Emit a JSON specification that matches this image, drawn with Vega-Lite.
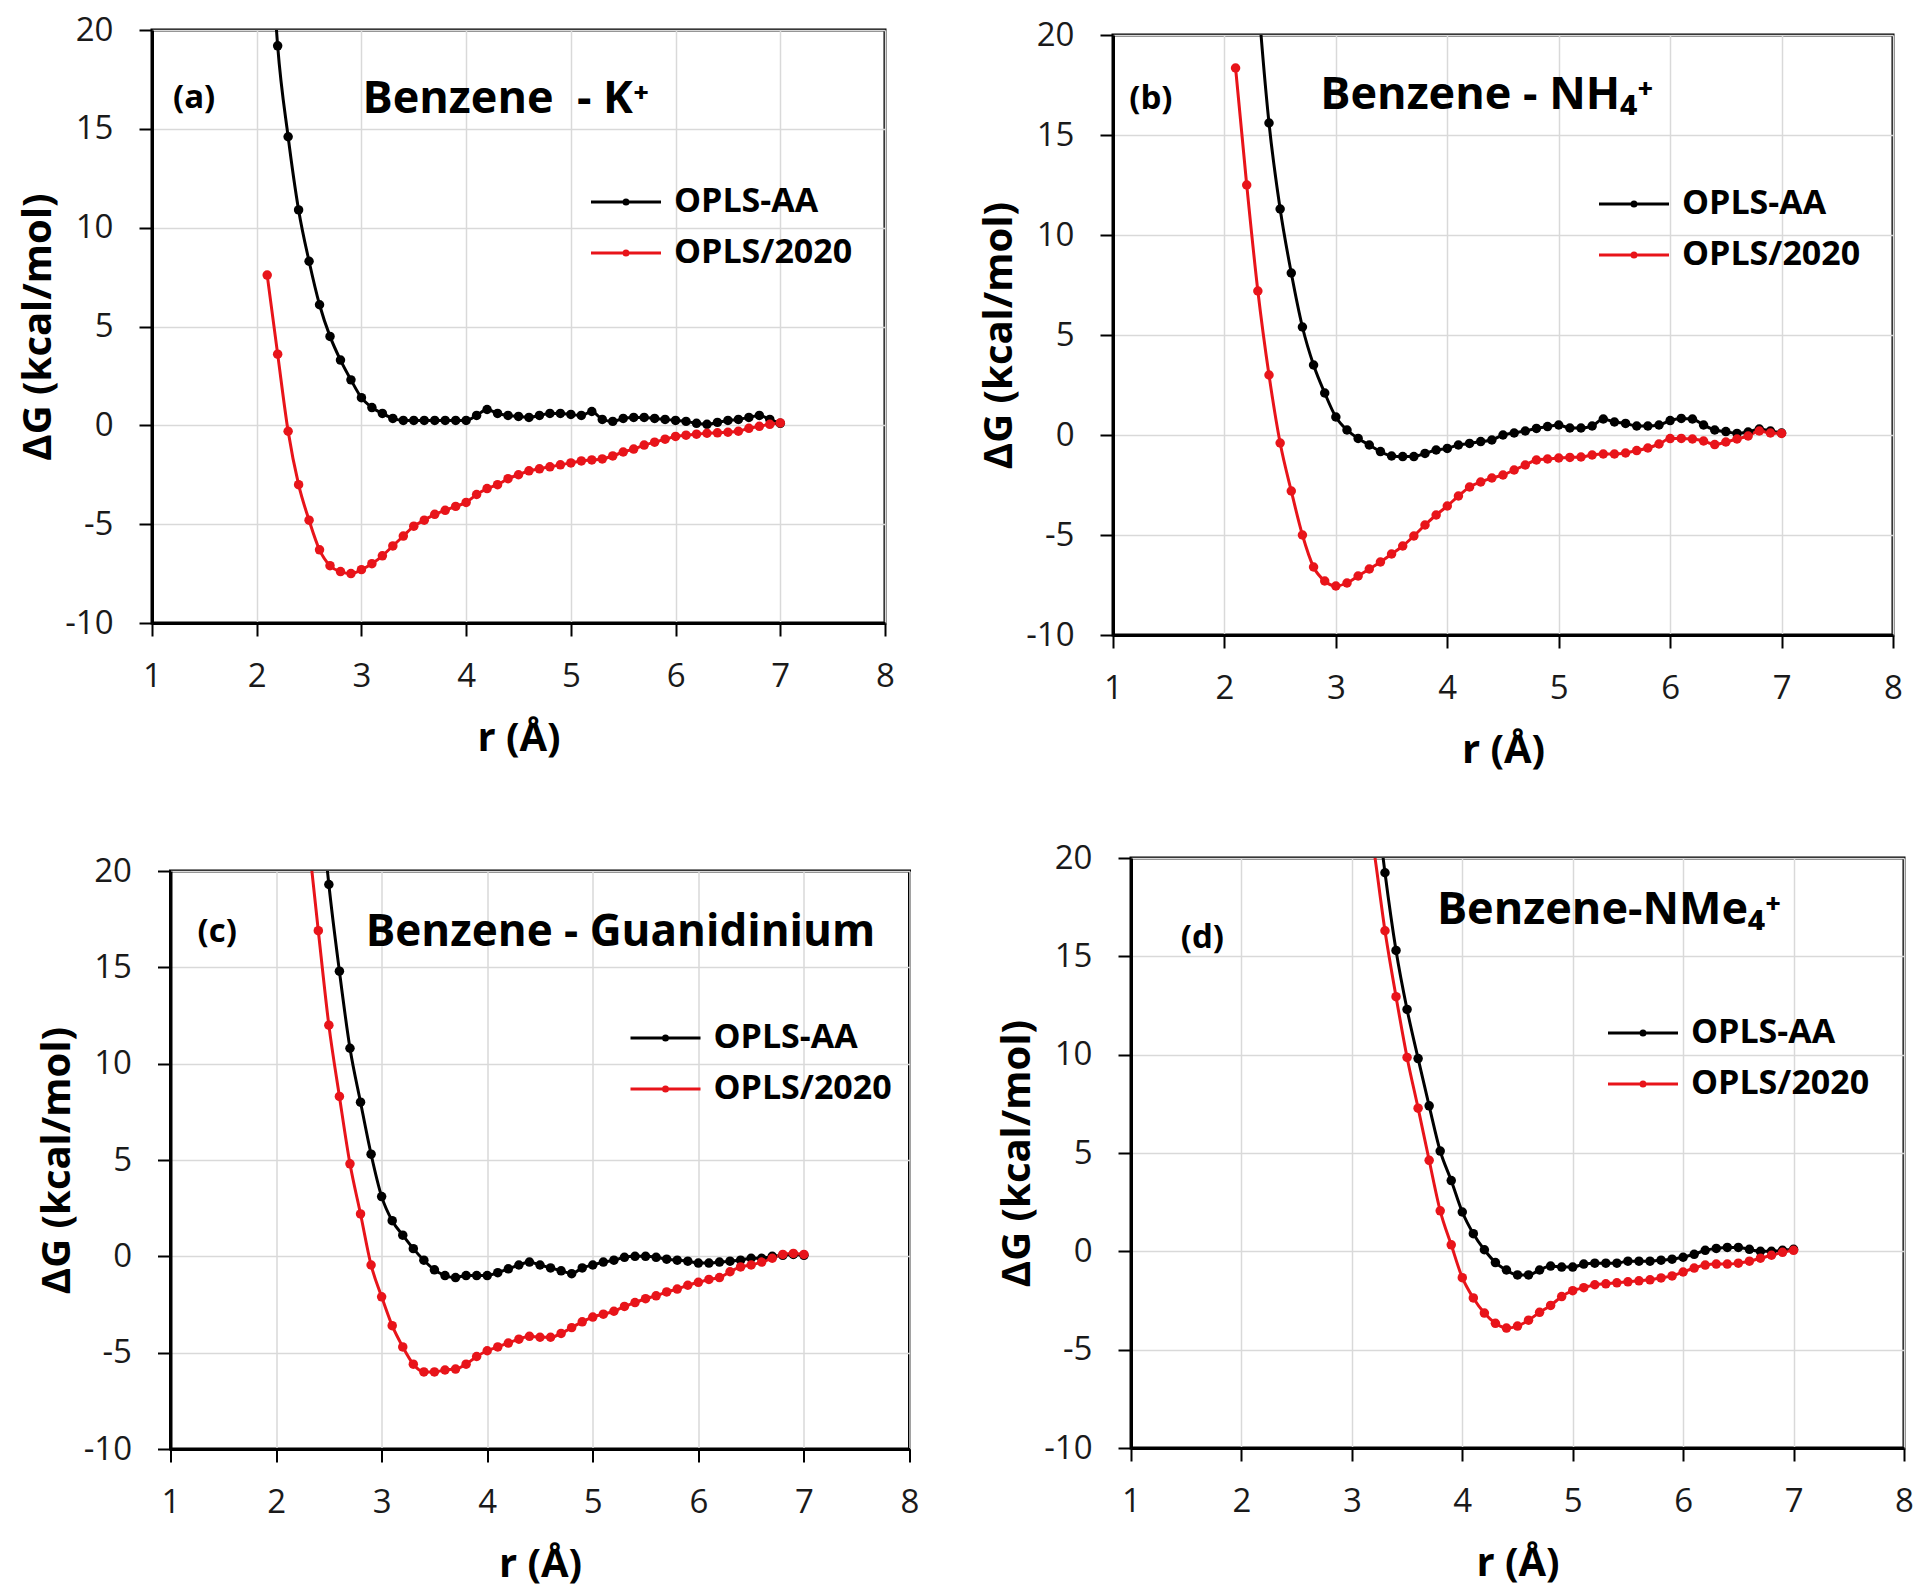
{
"$schema": "https://vega.github.io/schema/vega-lite/v6.json",
"background": "white",
"padding": {"left": 16, "top": 11, "right": 5, "bottom": 5},
"config": {
  "font": "Open Sans",
  "view": {"stroke": "black", "strokeWidth": 3},
  "axis": {"grid": true, "gridColor": "#d9d9d9", "gridWidth": 1.5, "domainColor": "black", "domainWidth": 3, "tickColor": "black", "tickWidth": 2, "tickSize": 13, "labelFont": "Open Sans", "labelFontSize": 33, "labelColor": "#1a1a1a", "labelFlush": false, "labelOverlap": false, "titleFont": "Open Sans", "titleFontSize": 40, "titleFontWeight": "bold", "titleColor": "black"},
  "axisX": {"labelPadding": 24, "titlePadding": 25},
  "axisY": {"labelPadding": 26, "titlePadding": 6},
  "legend": {"title": null, "orient": "none", "symbolType": "M-6,0L1,0M-2.7,0A0.2,0.2,0,1,0,-2.3,0A0.2,0.2,0,1,0,-2.7,0", "symbolSize": 400, "symbolStrokeWidth": 3, "labelFont": "Open Sans", "labelFontSize": 34, "labelFontWeight": "bold", "labelColor": "black", "labelLimit": 500, "rowPadding": 17, "labelOffset": 6}
},
"datasets": {
"a": [
{"s":"OPLS-AA","r":2.1,"G":28},{"s":"OPLS-AA","r":2.2,"G":19.2},{"s":"OPLS-AA","r":2.3,"G":14.6},{"s":"OPLS-AA","r":2.4,"G":10.9},{"s":"OPLS-AA","r":2.5,"G":8.3},{"s":"OPLS-AA","r":2.6,"G":6.1},{"s":"OPLS-AA","r":2.7,"G":4.5},{"s":"OPLS-AA","r":2.8,"G":3.3},{"s":"OPLS-AA","r":2.9,"G":2.3},{"s":"OPLS-AA","r":3.0,"G":1.4},
{"s":"OPLS-AA","r":3.1,"G":0.9},{"s":"OPLS-AA","r":3.2,"G":0.6},{"s":"OPLS-AA","r":3.3,"G":0.35},{"s":"OPLS-AA","r":3.4,"G":0.25},{"s":"OPLS-AA","r":3.5,"G":0.25},{"s":"OPLS-AA","r":3.6,"G":0.25},{"s":"OPLS-AA","r":3.7,"G":0.25},{"s":"OPLS-AA","r":3.8,"G":0.25},{"s":"OPLS-AA","r":3.9,"G":0.25},{"s":"OPLS-AA","r":4.0,"G":0.25},
{"s":"OPLS-AA","r":4.1,"G":0.5},{"s":"OPLS-AA","r":4.2,"G":0.8},{"s":"OPLS-AA","r":4.3,"G":0.6},{"s":"OPLS-AA","r":4.4,"G":0.5},{"s":"OPLS-AA","r":4.5,"G":0.45},{"s":"OPLS-AA","r":4.6,"G":0.4},{"s":"OPLS-AA","r":4.7,"G":0.5},{"s":"OPLS-AA","r":4.8,"G":0.6},{"s":"OPLS-AA","r":4.9,"G":0.6},{"s":"OPLS-AA","r":5.0,"G":0.55},
{"s":"OPLS-AA","r":5.1,"G":0.5},{"s":"OPLS-AA","r":5.2,"G":0.7},{"s":"OPLS-AA","r":5.3,"G":0.3},{"s":"OPLS-AA","r":5.4,"G":0.2},{"s":"OPLS-AA","r":5.5,"G":0.35},{"s":"OPLS-AA","r":5.6,"G":0.4},{"s":"OPLS-AA","r":5.7,"G":0.4},{"s":"OPLS-AA","r":5.8,"G":0.35},{"s":"OPLS-AA","r":5.9,"G":0.3},{"s":"OPLS-AA","r":6.0,"G":0.25},
{"s":"OPLS-AA","r":6.1,"G":0.2},{"s":"OPLS-AA","r":6.2,"G":0.1},{"s":"OPLS-AA","r":6.3,"G":0.05},{"s":"OPLS-AA","r":6.4,"G":0.15},{"s":"OPLS-AA","r":6.5,"G":0.25},{"s":"OPLS-AA","r":6.6,"G":0.3},{"s":"OPLS-AA","r":6.7,"G":0.4},{"s":"OPLS-AA","r":6.8,"G":0.5},{"s":"OPLS-AA","r":6.9,"G":0.3},{"s":"OPLS-AA","r":7.0,"G":0.1},
{"s":"OPLS/2020","r":2.1,"G":7.6},{"s":"OPLS/2020","r":2.2,"G":3.6},{"s":"OPLS/2020","r":2.3,"G":-0.3},{"s":"OPLS/2020","r":2.4,"G":-3.0},{"s":"OPLS/2020","r":2.5,"G":-4.8},{"s":"OPLS/2020","r":2.6,"G":-6.3},{"s":"OPLS/2020","r":2.7,"G":-7.1},{"s":"OPLS/2020","r":2.8,"G":-7.4},{"s":"OPLS/2020","r":2.9,"G":-7.5},{"s":"OPLS/2020","r":3.0,"G":-7.3},
{"s":"OPLS/2020","r":3.1,"G":-7.0},{"s":"OPLS/2020","r":3.2,"G":-6.6},{"s":"OPLS/2020","r":3.3,"G":-6.1},{"s":"OPLS/2020","r":3.4,"G":-5.6},{"s":"OPLS/2020","r":3.5,"G":-5.1},{"s":"OPLS/2020","r":3.6,"G":-4.8},{"s":"OPLS/2020","r":3.7,"G":-4.5},{"s":"OPLS/2020","r":3.8,"G":-4.3},{"s":"OPLS/2020","r":3.9,"G":-4.1},{"s":"OPLS/2020","r":4.0,"G":-3.9},
{"s":"OPLS/2020","r":4.1,"G":-3.5},{"s":"OPLS/2020","r":4.2,"G":-3.2},{"s":"OPLS/2020","r":4.3,"G":-3.0},{"s":"OPLS/2020","r":4.4,"G":-2.7},{"s":"OPLS/2020","r":4.5,"G":-2.5},{"s":"OPLS/2020","r":4.6,"G":-2.3},{"s":"OPLS/2020","r":4.7,"G":-2.2},{"s":"OPLS/2020","r":4.8,"G":-2.1},{"s":"OPLS/2020","r":4.9,"G":-2.0},{"s":"OPLS/2020","r":5.0,"G":-1.9},
{"s":"OPLS/2020","r":5.1,"G":-1.8},{"s":"OPLS/2020","r":5.2,"G":-1.75},{"s":"OPLS/2020","r":5.3,"G":-1.7},{"s":"OPLS/2020","r":5.4,"G":-1.55},{"s":"OPLS/2020","r":5.5,"G":-1.35},{"s":"OPLS/2020","r":5.6,"G":-1.2},{"s":"OPLS/2020","r":5.7,"G":-1.0},{"s":"OPLS/2020","r":5.8,"G":-0.85},{"s":"OPLS/2020","r":5.9,"G":-0.7},{"s":"OPLS/2020","r":6.0,"G":-0.56},
{"s":"OPLS/2020","r":6.1,"G":-0.5},{"s":"OPLS/2020","r":6.2,"G":-0.45},{"s":"OPLS/2020","r":6.3,"G":-0.4},{"s":"OPLS/2020","r":6.4,"G":-0.38},{"s":"OPLS/2020","r":6.5,"G":-0.35},{"s":"OPLS/2020","r":6.6,"G":-0.3},{"s":"OPLS/2020","r":6.7,"G":-0.15},{"s":"OPLS/2020","r":6.8,"G":-0.05},{"s":"OPLS/2020","r":6.9,"G":0.05},{"s":"OPLS/2020","r":7.0,"G":0.12}
],
"b": [
{"s":"OPLS-AA","r":2.2,"G":30},{"s":"OPLS-AA","r":2.3,"G":22},{"s":"OPLS-AA","r":2.4,"G":15.6},{"s":"OPLS-AA","r":2.5,"G":11.3},{"s":"OPLS-AA","r":2.6,"G":8.1},{"s":"OPLS-AA","r":2.7,"G":5.4},{"s":"OPLS-AA","r":2.8,"G":3.5},{"s":"OPLS-AA","r":2.9,"G":2.1},{"s":"OPLS-AA","r":3.0,"G":0.9},
{"s":"OPLS-AA","r":3.1,"G":0.25},{"s":"OPLS-AA","r":3.2,"G":-0.17},{"s":"OPLS-AA","r":3.3,"G":-0.5},{"s":"OPLS-AA","r":3.4,"G":-0.83},{"s":"OPLS-AA","r":3.5,"G":-1.05},{"s":"OPLS-AA","r":3.6,"G":-1.08},{"s":"OPLS-AA","r":3.7,"G":-1.08},{"s":"OPLS-AA","r":3.8,"G":-0.92},{"s":"OPLS-AA","r":3.9,"G":-0.75},{"s":"OPLS-AA","r":4.0,"G":-0.67},
{"s":"OPLS-AA","r":4.1,"G":-0.5},{"s":"OPLS-AA","r":4.2,"G":-0.42},{"s":"OPLS-AA","r":4.3,"G":-0.33},{"s":"OPLS-AA","r":4.4,"G":-0.25},{"s":"OPLS-AA","r":4.5,"G":0.0},{"s":"OPLS-AA","r":4.6,"G":0.1},{"s":"OPLS-AA","r":4.7,"G":0.2},{"s":"OPLS-AA","r":4.8,"G":0.33},{"s":"OPLS-AA","r":4.9,"G":0.42},{"s":"OPLS-AA","r":5.0,"G":0.5},
{"s":"OPLS-AA","r":5.1,"G":0.35},{"s":"OPLS-AA","r":5.2,"G":0.35},{"s":"OPLS-AA","r":5.3,"G":0.45},{"s":"OPLS-AA","r":5.4,"G":0.8},{"s":"OPLS-AA","r":5.5,"G":0.65},{"s":"OPLS-AA","r":5.6,"G":0.58},{"s":"OPLS-AA","r":5.7,"G":0.45},{"s":"OPLS-AA","r":5.8,"G":0.45},{"s":"OPLS-AA","r":5.9,"G":0.5},{"s":"OPLS-AA","r":6.0,"G":0.72},
{"s":"OPLS-AA","r":6.1,"G":0.83},{"s":"OPLS-AA","r":6.2,"G":0.8},{"s":"OPLS-AA","r":6.3,"G":0.5},{"s":"OPLS-AA","r":6.4,"G":0.25},{"s":"OPLS-AA","r":6.5,"G":0.17},{"s":"OPLS-AA","r":6.6,"G":0.08},{"s":"OPLS-AA","r":6.7,"G":0.15},{"s":"OPLS-AA","r":6.8,"G":0.3},{"s":"OPLS-AA","r":6.9,"G":0.2},{"s":"OPLS-AA","r":7.0,"G":0.1},
{"s":"OPLS/2020","r":2.1,"G":18.35},{"s":"OPLS/2020","r":2.2,"G":12.5},{"s":"OPLS/2020","r":2.3,"G":7.2},{"s":"OPLS/2020","r":2.4,"G":3.0},{"s":"OPLS/2020","r":2.5,"G":-0.4},{"s":"OPLS/2020","r":2.6,"G":-2.8},{"s":"OPLS/2020","r":2.7,"G":-5.0},{"s":"OPLS/2020","r":2.8,"G":-6.6},{"s":"OPLS/2020","r":2.9,"G":-7.3},{"s":"OPLS/2020","r":3.0,"G":-7.55},
{"s":"OPLS/2020","r":3.1,"G":-7.4},{"s":"OPLS/2020","r":3.2,"G":-7.05},{"s":"OPLS/2020","r":3.3,"G":-6.7},{"s":"OPLS/2020","r":3.4,"G":-6.35},{"s":"OPLS/2020","r":3.5,"G":-5.95},{"s":"OPLS/2020","r":3.6,"G":-5.55},{"s":"OPLS/2020","r":3.7,"G":-5.05},{"s":"OPLS/2020","r":3.8,"G":-4.5},{"s":"OPLS/2020","r":3.9,"G":-4.0},{"s":"OPLS/2020","r":4.0,"G":-3.55},
{"s":"OPLS/2020","r":4.1,"G":-3.05},{"s":"OPLS/2020","r":4.2,"G":-2.6},{"s":"OPLS/2020","r":4.3,"G":-2.35},{"s":"OPLS/2020","r":4.4,"G":-2.15},{"s":"OPLS/2020","r":4.5,"G":-2.0},{"s":"OPLS/2020","r":4.6,"G":-1.75},{"s":"OPLS/2020","r":4.7,"G":-1.5},{"s":"OPLS/2020","r":4.8,"G":-1.25},{"s":"OPLS/2020","r":4.9,"G":-1.2},{"s":"OPLS/2020","r":5.0,"G":-1.15},
{"s":"OPLS/2020","r":5.1,"G":-1.12},{"s":"OPLS/2020","r":5.2,"G":-1.1},{"s":"OPLS/2020","r":5.3,"G":-1.0},{"s":"OPLS/2020","r":5.4,"G":-0.95},{"s":"OPLS/2020","r":5.5,"G":-0.95},{"s":"OPLS/2020","r":5.6,"G":-0.9},{"s":"OPLS/2020","r":5.7,"G":-0.78},{"s":"OPLS/2020","r":5.8,"G":-0.65},{"s":"OPLS/2020","r":5.9,"G":-0.45},{"s":"OPLS/2020","r":6.0,"G":-0.18},
{"s":"OPLS/2020","r":6.1,"G":-0.17},{"s":"OPLS/2020","r":6.2,"G":-0.2},{"s":"OPLS/2020","r":6.3,"G":-0.3},{"s":"OPLS/2020","r":6.4,"G":-0.48},{"s":"OPLS/2020","r":6.5,"G":-0.35},{"s":"OPLS/2020","r":6.6,"G":-0.2},{"s":"OPLS/2020","r":6.7,"G":-0.05},{"s":"OPLS/2020","r":6.8,"G":0.2},{"s":"OPLS/2020","r":6.9,"G":0.1},{"s":"OPLS/2020","r":7.0,"G":0.08}
],
"c": [
{"s":"OPLS-AA","r":2.4,"G":25},{"s":"OPLS-AA","r":2.5,"G":19.3},{"s":"OPLS-AA","r":2.6,"G":14.8},{"s":"OPLS-AA","r":2.7,"G":10.8},{"s":"OPLS-AA","r":2.8,"G":8.0},{"s":"OPLS-AA","r":2.9,"G":5.3},{"s":"OPLS-AA","r":3.0,"G":3.1},
{"s":"OPLS-AA","r":3.1,"G":1.85},{"s":"OPLS-AA","r":3.2,"G":1.1},{"s":"OPLS-AA","r":3.3,"G":0.4},{"s":"OPLS-AA","r":3.4,"G":-0.2},{"s":"OPLS-AA","r":3.5,"G":-0.7},{"s":"OPLS-AA","r":3.6,"G":-1.0},{"s":"OPLS-AA","r":3.7,"G":-1.1},{"s":"OPLS-AA","r":3.8,"G":-1.0},{"s":"OPLS-AA","r":3.9,"G":-1.0},{"s":"OPLS-AA","r":4.0,"G":-1.0},
{"s":"OPLS-AA","r":4.1,"G":-0.85},{"s":"OPLS-AA","r":4.2,"G":-0.65},{"s":"OPLS-AA","r":4.3,"G":-0.45},{"s":"OPLS-AA","r":4.4,"G":-0.3},{"s":"OPLS-AA","r":4.5,"G":-0.45},{"s":"OPLS-AA","r":4.6,"G":-0.6},{"s":"OPLS-AA","r":4.7,"G":-0.75},{"s":"OPLS-AA","r":4.8,"G":-0.9},{"s":"OPLS-AA","r":4.9,"G":-0.6},{"s":"OPLS-AA","r":5.0,"G":-0.45},
{"s":"OPLS-AA","r":5.1,"G":-0.3},{"s":"OPLS-AA","r":5.2,"G":-0.2},{"s":"OPLS-AA","r":5.3,"G":-0.05},{"s":"OPLS-AA","r":5.4,"G":0.0},{"s":"OPLS-AA","r":5.5,"G":0.0},{"s":"OPLS-AA","r":5.6,"G":-0.05},{"s":"OPLS-AA","r":5.7,"G":-0.15},{"s":"OPLS-AA","r":5.8,"G":-0.2},{"s":"OPLS-AA","r":5.9,"G":-0.25},{"s":"OPLS-AA","r":6.0,"G":-0.35},
{"s":"OPLS-AA","r":6.1,"G":-0.35},{"s":"OPLS-AA","r":6.2,"G":-0.3},{"s":"OPLS-AA","r":6.3,"G":-0.25},{"s":"OPLS-AA","r":6.4,"G":-0.2},{"s":"OPLS-AA","r":6.5,"G":-0.1},{"s":"OPLS-AA","r":6.6,"G":-0.1},{"s":"OPLS-AA","r":6.7,"G":0.0},{"s":"OPLS-AA","r":6.8,"G":0.05},{"s":"OPLS-AA","r":6.9,"G":0.1},{"s":"OPLS-AA","r":7.0,"G":0.05},
{"s":"OPLS/2020","r":2.3,"G":22},{"s":"OPLS/2020","r":2.4,"G":16.9},{"s":"OPLS/2020","r":2.5,"G":12.0},{"s":"OPLS/2020","r":2.6,"G":8.3},{"s":"OPLS/2020","r":2.7,"G":4.8},{"s":"OPLS/2020","r":2.8,"G":2.2},{"s":"OPLS/2020","r":2.9,"G":-0.45},{"s":"OPLS/2020","r":3.0,"G":-2.1},
{"s":"OPLS/2020","r":3.1,"G":-3.6},{"s":"OPLS/2020","r":3.2,"G":-4.7},{"s":"OPLS/2020","r":3.3,"G":-5.6},{"s":"OPLS/2020","r":3.4,"G":-6.0},{"s":"OPLS/2020","r":3.5,"G":-6.0},{"s":"OPLS/2020","r":3.6,"G":-5.9},{"s":"OPLS/2020","r":3.7,"G":-5.85},{"s":"OPLS/2020","r":3.8,"G":-5.6},{"s":"OPLS/2020","r":3.9,"G":-5.2},{"s":"OPLS/2020","r":4.0,"G":-4.9},
{"s":"OPLS/2020","r":4.1,"G":-4.7},{"s":"OPLS/2020","r":4.2,"G":-4.5},{"s":"OPLS/2020","r":4.3,"G":-4.3},{"s":"OPLS/2020","r":4.4,"G":-4.15},{"s":"OPLS/2020","r":4.5,"G":-4.2},{"s":"OPLS/2020","r":4.6,"G":-4.2},{"s":"OPLS/2020","r":4.7,"G":-4.0},{"s":"OPLS/2020","r":4.8,"G":-3.7},{"s":"OPLS/2020","r":4.9,"G":-3.4},{"s":"OPLS/2020","r":5.0,"G":-3.15},
{"s":"OPLS/2020","r":5.1,"G":-3.0},{"s":"OPLS/2020","r":5.2,"G":-2.85},{"s":"OPLS/2020","r":5.3,"G":-2.6},{"s":"OPLS/2020","r":5.4,"G":-2.4},{"s":"OPLS/2020","r":5.5,"G":-2.2},{"s":"OPLS/2020","r":5.6,"G":-2.05},{"s":"OPLS/2020","r":5.7,"G":-1.85},{"s":"OPLS/2020","r":5.8,"G":-1.7},{"s":"OPLS/2020","r":5.9,"G":-1.5},{"s":"OPLS/2020","r":6.0,"G":-1.35},
{"s":"OPLS/2020","r":6.1,"G":-1.2},{"s":"OPLS/2020","r":6.2,"G":-1.1},{"s":"OPLS/2020","r":6.3,"G":-0.8},{"s":"OPLS/2020","r":6.4,"G":-0.55},{"s":"OPLS/2020","r":6.5,"G":-0.45},{"s":"OPLS/2020","r":6.6,"G":-0.3},{"s":"OPLS/2020","r":6.7,"G":-0.1},{"s":"OPLS/2020","r":6.8,"G":0.1},{"s":"OPLS/2020","r":6.9,"G":0.15},{"s":"OPLS/2020","r":7.0,"G":0.1}
],
"d": [
{"s":"OPLS-AA","r":3.2,"G":24},{"s":"OPLS-AA","r":3.3,"G":19.25},{"s":"OPLS-AA","r":3.4,"G":15.3},{"s":"OPLS-AA","r":3.5,"G":12.3},{"s":"OPLS-AA","r":3.6,"G":9.8},{"s":"OPLS-AA","r":3.7,"G":7.4},{"s":"OPLS-AA","r":3.8,"G":5.1},{"s":"OPLS-AA","r":3.9,"G":3.6},{"s":"OPLS-AA","r":4.0,"G":2.0},
{"s":"OPLS-AA","r":4.1,"G":0.9},{"s":"OPLS-AA","r":4.2,"G":0.08},{"s":"OPLS-AA","r":4.3,"G":-0.57},{"s":"OPLS-AA","r":4.4,"G":-0.95},{"s":"OPLS-AA","r":4.5,"G":-1.2},{"s":"OPLS-AA","r":4.6,"G":-1.2},{"s":"OPLS-AA","r":4.7,"G":-0.95},{"s":"OPLS-AA","r":4.8,"G":-0.75},{"s":"OPLS-AA","r":4.9,"G":-0.8},{"s":"OPLS-AA","r":5.0,"G":-0.8},
{"s":"OPLS-AA","r":5.1,"G":-0.65},{"s":"OPLS-AA","r":5.2,"G":-0.6},{"s":"OPLS-AA","r":5.3,"G":-0.6},{"s":"OPLS-AA","r":5.4,"G":-0.6},{"s":"OPLS-AA","r":5.5,"G":-0.5},{"s":"OPLS-AA","r":5.6,"G":-0.5},{"s":"OPLS-AA","r":5.7,"G":-0.5},{"s":"OPLS-AA","r":5.8,"G":-0.45},{"s":"OPLS-AA","r":5.9,"G":-0.4},{"s":"OPLS-AA","r":6.0,"G":-0.3},
{"s":"OPLS-AA","r":6.1,"G":-0.15},{"s":"OPLS-AA","r":6.2,"G":0.05},{"s":"OPLS-AA","r":6.3,"G":0.15},{"s":"OPLS-AA","r":6.4,"G":0.2},{"s":"OPLS-AA","r":6.5,"G":0.2},{"s":"OPLS-AA","r":6.6,"G":0.1},{"s":"OPLS-AA","r":6.7,"G":0.0},{"s":"OPLS-AA","r":6.8,"G":0.0},{"s":"OPLS-AA","r":6.9,"G":0.05},{"s":"OPLS-AA","r":7.0,"G":0.1},
{"s":"OPLS/2020","r":3.1,"G":24},{"s":"OPLS/2020","r":3.2,"G":20.4},{"s":"OPLS/2020","r":3.3,"G":16.3},{"s":"OPLS/2020","r":3.4,"G":12.95},{"s":"OPLS/2020","r":3.5,"G":9.86},{"s":"OPLS/2020","r":3.6,"G":7.28},{"s":"OPLS/2020","r":3.7,"G":4.63},{"s":"OPLS/2020","r":3.8,"G":2.06},{"s":"OPLS/2020","r":3.9,"G":0.33},{"s":"OPLS/2020","r":4.0,"G":-1.34},
{"s":"OPLS/2020","r":4.1,"G":-2.37},{"s":"OPLS/2020","r":4.2,"G":-3.14},{"s":"OPLS/2020","r":4.3,"G":-3.66},{"s":"OPLS/2020","r":4.4,"G":-3.9},{"s":"OPLS/2020","r":4.5,"G":-3.8},{"s":"OPLS/2020","r":4.6,"G":-3.5},{"s":"OPLS/2020","r":4.7,"G":-3.1},{"s":"OPLS/2020","r":4.8,"G":-2.75},{"s":"OPLS/2020","r":4.9,"G":-2.3},{"s":"OPLS/2020","r":5.0,"G":-2.0},
{"s":"OPLS/2020","r":5.1,"G":-1.85},{"s":"OPLS/2020","r":5.2,"G":-1.7},{"s":"OPLS/2020","r":5.3,"G":-1.65},{"s":"OPLS/2020","r":5.4,"G":-1.6},{"s":"OPLS/2020","r":5.5,"G":-1.55},{"s":"OPLS/2020","r":5.6,"G":-1.5},{"s":"OPLS/2020","r":5.7,"G":-1.45},{"s":"OPLS/2020","r":5.8,"G":-1.35},{"s":"OPLS/2020","r":5.9,"G":-1.25},{"s":"OPLS/2020","r":6.0,"G":-1.05},
{"s":"OPLS/2020","r":6.1,"G":-0.85},{"s":"OPLS/2020","r":6.2,"G":-0.7},{"s":"OPLS/2020","r":6.3,"G":-0.65},{"s":"OPLS/2020","r":6.4,"G":-0.65},{"s":"OPLS/2020","r":6.5,"G":-0.6},{"s":"OPLS/2020","r":6.6,"G":-0.5},{"s":"OPLS/2020","r":6.7,"G":-0.35},{"s":"OPLS/2020","r":6.8,"G":-0.2},{"s":"OPLS/2020","r":6.9,"G":-0.05},{"s":"OPLS/2020","r":7.0,"G":0.05}
]
},
"spacing": 64,
"resolve": {"scale": {"color": "independent"}, "legend": {"color": "independent"}},
"vconcat": [
{
 "spacing": 82,
 "resolve": {"scale": {"color": "independent"}, "legend": {"color": "independent"}},
 "hconcat": [
  {
   "spacing": 0,
   "resolve": {"scale": {"color": "independent"}, "legend": {"color": "independent"}},
   "hconcat": [
    {"width": 1, "height": 1, "view": {"stroke": null}, "data": {"values": [{"k": 0}]}, "mark": {"type": "point", "size": 0, "opacity": 0, "strokeWidth": 0}, "encoding": {}},
    {
     "spacing": 0,
     "resolve": {"scale": {"color": "independent"}, "legend": {"color": "independent"}},
     "vconcat": [
      {"width": 1, "height": 1, "view": {"stroke": null}, "data": {"values": [{"k": 0}]}, "mark": {"type": "point", "size": 0, "opacity": 0, "strokeWidth": 0}, "encoding": {}},
      {
       "width": 733, "height": 593,
       "data": {"name": "a"},
       "layer": [
        {"mark": {"type": "line", "clip": true, "strokeWidth": 3, "interpolate": "monotone"},
         "encoding": {
          "x": {"field": "r", "type": "quantitative", "title": "r (Å)", "scale": {"domain": [1, 8], "nice": false, "zero": false}, "axis": {"values": [1,2,3,4,5,6,7,8], "format": "d"}},
          "y": {"field": "G", "type": "quantitative", "title": "ΔG (kcal/mol)", "scale": {"domain": [-10, 20], "nice": false, "zero": false}, "axis": {"values": [-10,-5,0,5,10,15,20], "labelExpr": "datum.value + ''"}},
          "color": {"field": "s", "type": "nominal", "scale": {"domain": ["OPLS-AA", "OPLS/2020"], "range": ["#000000", "#e8141a"]}, "legend": {"legendX": 482, "legendY": 155}}
         }},
        {"mark": {"type": "circle", "clip": true, "size": 90, "opacity": 1},
         "encoding": {
          "x": {"field": "r", "type": "quantitative", "title": "r (Å)"},
          "y": {"field": "G", "type": "quantitative", "title": "ΔG (kcal/mol)"},
          "color": {"field": "s", "type": "nominal", "legend": null}
         }},
        {"data": {"values": [{"t": "(a)"}]}, "mark": {"type": "text", "fontSize": 33, "fontWeight": "bold", "align": "left", "baseline": "middle", "color": "black"},
         "encoding": {"x": {"datum": 1.2, "type": "quantitative", "title": "r (Å)"}, "y": {"datum": 16.54, "type": "quantitative", "title": "ΔG (kcal/mol)"}, "text": {"field": "t"}}},
        {"data": {"values": [{"t": "Benzene\u00a0 - K⁺"}]}, "mark": {"type": "text", "fontSize": 45, "fontWeight": "bold", "align": "left", "baseline": "middle", "color": "black"},
         "encoding": {"x": {"datum": 3.01, "type": "quantitative", "title": "r (Å)"}, "y": {"datum": 16.53, "type": "quantitative", "title": "ΔG (kcal/mol)"}, "text": {"field": "t"}}}
       ]
      }
     ]
    }
   ]
  },
  {
   "spacing": 5,
   "resolve": {"scale": {"color": "independent"}, "legend": {"color": "independent"}},
   "vconcat": [
    {"width": 1, "height": 1, "view": {"stroke": null}, "data": {"values": [{"k": 0}]}, "mark": {"type": "point", "size": 0, "opacity": 0, "strokeWidth": 0}, "encoding": {}},
    {
     "width": 780, "height": 600,
     "data": {"name": "b"},
     "layer": [
      {"mark": {"type": "line", "clip": true, "strokeWidth": 3, "interpolate": "monotone"},
       "encoding": {
        "x": {"field": "r", "type": "quantitative", "title": "r (Å)", "scale": {"domain": [1, 8], "nice": false, "zero": false}, "axis": {"values": [1,2,3,4,5,6,7,8], "format": "d"}},
        "y": {"field": "G", "type": "quantitative", "title": "ΔG (kcal/mol)", "scale": {"domain": [-10, 20], "nice": false, "zero": false}, "axis": {"values": [-10,-5,0,5,10,15,20], "labelExpr": "datum.value + ''"}},
        "color": {"field": "s", "type": "nominal", "scale": {"domain": ["OPLS-AA", "OPLS/2020"], "range": ["#000000", "#e8141a"]}, "legend": {"legendX": 529, "legendY": 152}}
       }},
      {"mark": {"type": "circle", "clip": true, "size": 90, "opacity": 1},
       "encoding": {
        "x": {"field": "r", "type": "quantitative", "title": "r (Å)"},
        "y": {"field": "G", "type": "quantitative", "title": "ΔG (kcal/mol)"},
        "color": {"field": "s", "type": "nominal", "legend": null}
       }},
      {"data": {"values": [{"t": "(b)"}]}, "mark": {"type": "text", "fontSize": 33, "fontWeight": "bold", "align": "left", "baseline": "middle", "color": "black"},
       "encoding": {"x": {"datum": 1.146, "type": "quantitative", "title": "r (Å)"}, "y": {"datum": 16.78, "type": "quantitative", "title": "ΔG (kcal/mol)"}, "text": {"field": "t"}}},
      {"data": {"values": [{"t": "Benzene - NH₄⁺"}]}, "mark": {"type": "text", "fontSize": 45, "fontWeight": "bold", "align": "left", "baseline": "middle", "color": "black"},
       "encoding": {"x": {"datum": 2.86, "type": "quantitative", "title": "r (Å)"}, "y": {"datum": 17.0, "type": "quantitative", "title": "ΔG (kcal/mol)"}, "text": {"field": "t"}}}
     ]
    }
   ]
  }
 ]
},
{
 "spacing": 75,
 "resolve": {"scale": {"color": "independent"}, "legend": {"color": "independent"}},
 "hconcat": [
  {
   "spacing": 18.5,
   "resolve": {"scale": {"color": "independent"}, "legend": {"color": "independent"}},
   "hconcat": [
    {"width": 1, "height": 1, "view": {"stroke": null}, "data": {"values": [{"k": 0}]}, "mark": {"type": "point", "size": 0, "opacity": 0, "strokeWidth": 0}, "encoding": {}},
    {
     "spacing": 16,
     "resolve": {"scale": {"color": "independent"}, "legend": {"color": "independent"}},
     "vconcat": [
      {"width": 1, "height": 1, "view": {"stroke": null}, "data": {"values": [{"k": 0}]}, "mark": {"type": "point", "size": 0, "opacity": 0, "strokeWidth": 0}, "encoding": {}},
      {
       "width": 739, "height": 578,
       "data": {"name": "c"},
       "layer": [
        {"mark": {"type": "line", "clip": true, "strokeWidth": 3, "interpolate": "monotone"},
         "encoding": {
          "x": {"field": "r", "type": "quantitative", "title": "r (Å)", "scale": {"domain": [1, 8], "nice": false, "zero": false}, "axis": {"values": [1,2,3,4,5,6,7,8], "format": "d"}},
          "y": {"field": "G", "type": "quantitative", "title": "ΔG (kcal/mol)", "scale": {"domain": [-10, 20], "nice": false, "zero": false}, "axis": {"values": [-10,-5,0,5,10,15,20], "labelExpr": "datum.value + ''"}},
          "color": {"field": "s", "type": "nominal", "scale": {"domain": ["OPLS-AA", "OPLS/2020"], "range": ["#000000", "#e8141a"]}, "legend": {"legendX": 503, "legendY": 150}}
         }},
        {"mark": {"type": "circle", "clip": true, "size": 90, "opacity": 1},
         "encoding": {
          "x": {"field": "r", "type": "quantitative", "title": "r (Å)"},
          "y": {"field": "G", "type": "quantitative", "title": "ΔG (kcal/mol)"},
          "color": {"field": "s", "type": "nominal", "legend": null}
         }},
        {"data": {"values": [{"t": "(c)"}]}, "mark": {"type": "text", "fontSize": 33, "fontWeight": "bold", "align": "left", "baseline": "middle", "color": "black"},
         "encoding": {"x": {"datum": 1.256, "type": "quantitative", "title": "r (Å)"}, "y": {"datum": 16.83, "type": "quantitative", "title": "ΔG (kcal/mol)"}, "text": {"field": "t"}}},
        {"data": {"values": [{"t": "Benzene - Guanidinium"}]}, "mark": {"type": "text", "fontSize": 44, "fontWeight": "bold", "align": "left", "baseline": "middle", "color": "black"},
         "encoding": {"x": {"datum": 2.85, "type": "quantitative", "title": "r (Å)"}, "y": {"datum": 16.78, "type": "quantitative", "title": "ΔG (kcal/mol)"}, "text": {"field": "t"}}}
       ]
      }
     ]
    }
   ]
  },
  {
   "spacing": 3,
   "resolve": {"scale": {"color": "independent"}, "legend": {"color": "independent"}},
   "vconcat": [
    {"width": 1, "height": 1, "view": {"stroke": null}, "data": {"values": [{"k": 0}]}, "mark": {"type": "point", "size": 0, "opacity": 0, "strokeWidth": 0}, "encoding": {}},
    {
     "width": 773, "height": 590,
     "data": {"name": "d"},
     "layer": [
      {"mark": {"type": "line", "clip": true, "strokeWidth": 3, "interpolate": "monotone"},
       "encoding": {
        "x": {"field": "r", "type": "quantitative", "title": "r (Å)", "scale": {"domain": [1, 8], "nice": false, "zero": false}, "axis": {"values": [1,2,3,4,5,6,7,8], "format": "d"}},
        "y": {"field": "G", "type": "quantitative", "title": "ΔG (kcal/mol)", "scale": {"domain": [-10, 20], "nice": false, "zero": false}, "axis": {"values": [-10,-5,0,5,10,15,20], "labelExpr": "datum.value + ''"}},
        "color": {"field": "s", "type": "nominal", "scale": {"domain": ["OPLS-AA", "OPLS/2020"], "range": ["#000000", "#e8141a"]}, "legend": {"legendX": 520, "legendY": 158}}
       }},
      {"mark": {"type": "circle", "clip": true, "size": 90, "opacity": 1},
       "encoding": {
        "x": {"field": "r", "type": "quantitative", "title": "r (Å)"},
        "y": {"field": "G", "type": "quantitative", "title": "ΔG (kcal/mol)"},
        "color": {"field": "s", "type": "nominal", "legend": null}
       }},
      {"data": {"values": [{"t": "(d)"}]}, "mark": {"type": "text", "fontSize": 33, "fontWeight": "bold", "align": "left", "baseline": "middle", "color": "black"},
       "encoding": {"x": {"datum": 1.45, "type": "quantitative", "title": "r (Å)"}, "y": {"datum": 15.91, "type": "quantitative", "title": "ΔG (kcal/mol)"}, "text": {"field": "t"}}},
      {"data": {"values": [{"t": "Benzene-NMe₄⁺"}]}, "mark": {"type": "text", "fontSize": 45, "fontWeight": "bold", "align": "left", "baseline": "middle", "color": "black"},
       "encoding": {"x": {"datum": 3.77, "type": "quantitative", "title": "r (Å)"}, "y": {"datum": 17.34, "type": "quantitative", "title": "ΔG (kcal/mol)"}, "text": {"field": "t"}}}
     ]
    }
   ]
  }
 ]
}
]
}
